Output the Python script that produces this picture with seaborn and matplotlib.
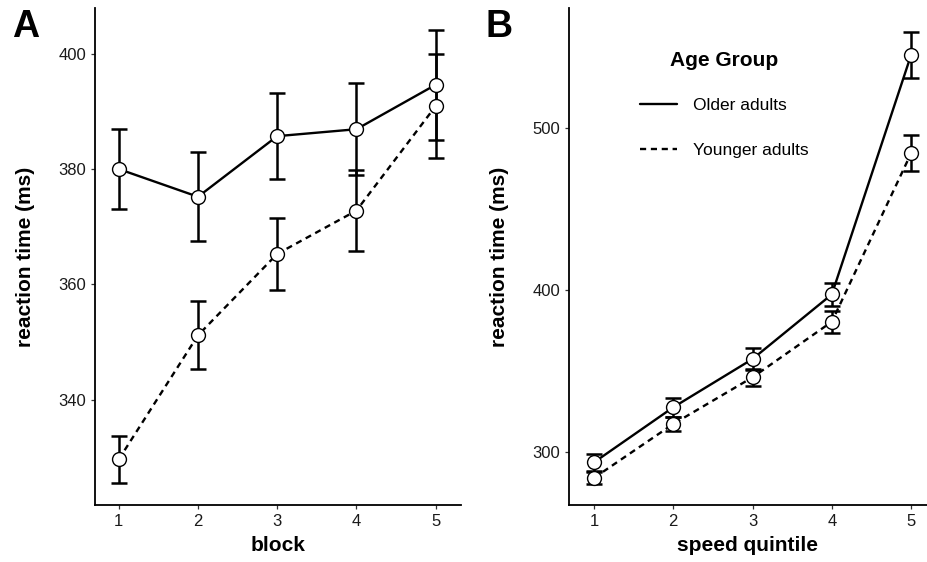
import matplotlib
matplotlib.use("Agg")
import matplotlib.pyplot as plt
import seaborn as sns
import pandas as pd
import numpy as np

# ---- data ----
blocks = [1, 2, 3, 4, 5]
older_block = [380.0, 375.2, 385.7, 386.9, 394.6]
older_block_err = [6.9, 7.7, 7.5, 8.0, 9.5]
younger_block = [329.7, 351.2, 365.3, 372.8, 390.9]
younger_block_err = [4.1, 5.9, 6.3, 7.0, 9.0]

quintiles = [1, 2, 3, 4, 5]
older_q = [293.6, 327.6, 357.4, 397.3, 545.1]
older_q_err = [5.4, 6.0, 6.5, 7.2, 14.0]
younger_q = [284.0, 317.3, 346.1, 380.4, 484.4]
younger_q_err = [3.5, 4.5, 5.4, 6.9, 11.0]

groups = ["Older adults", "Younger adults"]

sns.set_theme(style="ticks")
plt.rcParams['font.family'] = ['Liberation Sans', 'DejaVu Sans']
plt.rcParams['text.color'] = 'black'
plt.rcParams['axes.labelcolor'] = 'black'

fig = plt.figure(figsize=(9.28, 5.62), dpi=100)
axA = fig.add_axes([95/928, 1-505/562, (461-95)/928, (505-8)/562])
axB = fig.add_axes([569/928, 1-505/562, (927-569)/928, (505-8)/562])

dash = (2.6, 2.0)

def panel(ax, x, o, oe, y, ye, xlabel, legend):
    df = pd.DataFrame({
        "x": list(x) + list(x),
        "rt": list(o) + list(y),
        "err": list(oe) + list(ye),
        "Age Group": [groups[0]] * len(x) + [groups[1]] * len(x),
    })
    sns.lineplot(data=df, x="x", y="rt", style="Age Group",
                 dashes={groups[0]: "", groups[1]: dash},
                 color="black", linewidth=1.7, ax=ax, legend=legend,
                 zorder=2)
    for g in groups:
        sub = df[df["Age Group"] == g]
        ax.errorbar(sub["x"], sub["rt"], yerr=sub["err"], fmt="none",
                    ecolor="black", elinewidth=1.8, capsize=5.5, capthick=1.8,
                    zorder=3)
    sns.scatterplot(data=df, x="x", y="rt", ax=ax, s=100, color="white",
                    edgecolor="black", linewidth=1.0, zorder=4, legend=False)
    ax.set_xlabel(xlabel, fontsize=15, fontweight="bold", labelpad=5)
    ax.set_ylabel("reaction time (ms)", fontsize=15, fontweight="bold", labelpad=17)
    ax.set_xticks(x)
    ax.tick_params(labelsize=12, colors="#333333", length=3, width=0.9)
    ax.tick_params(axis="both", labelcolor="#1a1a1a")
    for s in ["top", "right"]:
        ax.spines[s].set_visible(False)
    for s in ["left", "bottom"]:
        ax.spines[s].set_linewidth(1.3)
        ax.spines[s].set_color("black")

panel(axA, blocks, older_block, older_block_err, younger_block, younger_block_err,
      "block", False)
axA.set_xlim(0.70, 5.32)
axA.set_ylim(321.8, 407.9)
axA.set_yticks([340, 360, 380, 400])

panel(axB, quintiles, older_q, older_q_err, younger_q, younger_q_err,
      "speed quintile", True)
axB.set_xlim(0.685, 5.2)
axB.set_ylim(267.3, 574)
axB.set_yticks([300, 400, 500])

leg = axB.legend(title="Age Group", loc="upper left", bbox_to_anchor=(0.155, 0.945),
                 frameon=False, fontsize=12.5, title_fontsize=15,
                 handlelength=2.1, labelspacing=1.72, handletextpad=0.95)
leg.get_title().set_fontweight("bold")
leg._legend_box.sep = 20
for h in leg.get_lines():
    h.set_linewidth(1.7)
    h.set_color("black")

fig.text(12/928, 1-27/562, "A", fontsize=27, fontweight="bold", va="center", ha="left")
fig.text(486/928, 1-27/562, "B", fontsize=27, fontweight="bold", va="center", ha="left")

fig.savefig("out.png", dpi=100)
